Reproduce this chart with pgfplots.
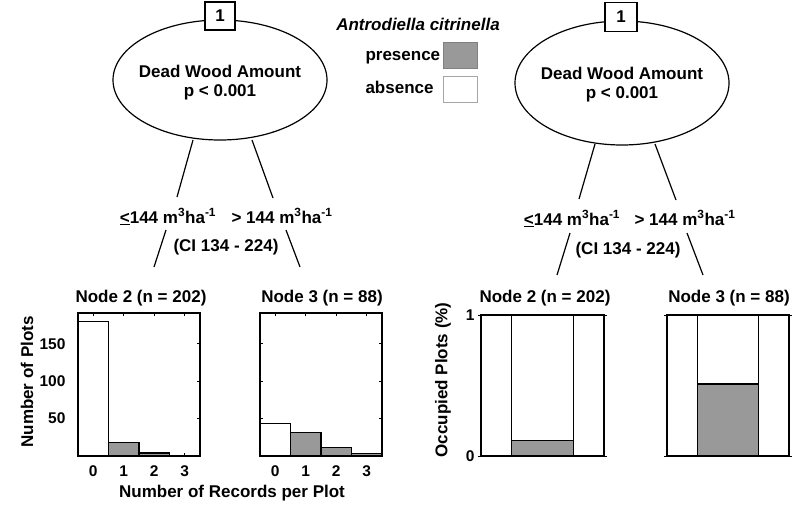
\documentclass[border=0pt]{standalone}
\usepackage{fontspec}
\setmainfont{Liberation Sans}
\usepackage{pgfplots}
\pgfplotsset{compat=1.18}
\definecolor{pres}{RGB}{153,153,153}
\newcommand{\lab}{\fontsize{17}{20}\selectfont\bfseries}
\newcommand{\tlab}{\fontsize{15.5}{18}\selectfont\bfseries}
\pgfplotsset{
  base/.style={
    scale only axis, anchor=south west, clip=false,
    axis line style={line width=1.2pt},
    /pgf/number format/assume math mode=true,
    ticklabel style={font=\tlab},
    tick style={black, line width=1pt},
    major tick length=3pt,
  },
  hist/.style={base, width=122pt, height=143pt,
    xmin=-0.5, xmax=3.5, ymin=0, ymax=191,
    xtick={0,1,2,3}, ytick={50,100,150}, tick align=inside,
    xticklabel style={yshift=-6pt},
    yticklabel style={xshift=-9pt},
  },
  occ/.style={base, height=141pt,
    xmin=0, xmax=4, ymin=0, ymax=1,
    xtick=\empty, ytick={0,1}, tick align=outside,
  },
  hbar/.style={ybar, bar width=1, draw=black, line width=1.2pt},
  obar/.style={ybar, bar width=2, draw=black, line width=1.2pt},
}
\begin{document}
\begin{tikzpicture}[x=1pt,y=-1pt,font=\lab]
\useasboundingbox (0,0) rectangle (794,504);
% ---------- left tree ----------
\draw[line width=1.2pt] (220,80) ellipse [x radius=107, y radius=60];
\node[draw, fill=white, line width=1.2pt, minimum width=30pt, minimum height=28pt, inner sep=0pt] at (220,16) {1};
\node[anchor=base] at (220,77) {Dead Wood Amount};
\node[anchor=base] at (220,96) {p < 0.001};
\draw[line width=1.2pt] (193,140) -- (177,197);
\draw[line width=1.2pt] (252,140) -- (273,198);
\draw[line width=1.2pt] (166,230) -- (154,267);
\draw[line width=1.2pt] (286,230) -- (300,267);
\node[anchor=base] at (168,223) {\underline{<}144 m\textsuperscript{3}ha\textsuperscript{-1}};
\node[anchor=base] at (282,223) {> 144 m\textsuperscript{3}ha\textsuperscript{-1}};
\node[anchor=base] at (226,251) {(CI 134 - 224)};
% ---------- right tree ----------
\draw[line width=1.2pt] (622,83) ellipse [x radius=107, y radius=62];
\node[draw, fill=white, line width=1.2pt, minimum width=32pt, minimum height=29pt, inner sep=0pt] at (621,17) {1};
\node[anchor=base] at (622,79) {Dead Wood Amount};
\node[anchor=base] at (622,98) {p < 0.001};
\draw[line width=1.2pt] (595,144) -- (579,199);
\draw[line width=1.2pt] (655,144) -- (676,200);
\draw[line width=1.2pt] (570,233) -- (557,275);
\draw[line width=1.2pt] (687,233) -- (703,275);
\node[anchor=base] at (572,225) {\underline{<}144 m\textsuperscript{3}ha\textsuperscript{-1}};
\node[anchor=base] at (685,225) {> 144 m\textsuperscript{3}ha\textsuperscript{-1}};
\node[anchor=base] at (628,254) {(CI 134 - 224)};
% ---------- legend ----------
\node[anchor=base, font=\lab\itshape] at (418,30) {Antrodiella citrinella};
\node[anchor=base west] at (362,60) {presence};
\node[anchor=base west] at (362,93) {absence};
\draw[draw=gray, fill=pres, line width=1pt] (443,42) rectangle (477,68);
\draw[draw=gray!70, fill=white, line width=1pt] (443,76) rectangle (477,102);
% ---------- titles and labels ----------
\node[anchor=base] at (141,302) {Node 2 (n = 202)};
\node[anchor=base] at (322,302) {Node 3 (n = 88)};
\node[anchor=base] at (545,302) {Node 2 (n = 202)};
\node[anchor=base] at (729,302) {Node 3 (n = 88)};
\node at (232,493) {Number of Records per Plot};
\node[rotate=90] at (27,382) {Number of Plots};
\node[rotate=90] at (443,380) {Occupied Plots (\%)};
% ---------- histograms ----------
\begin{axis}[hist, at={(78pt,-456pt)}]
\addplot[hbar, fill=white] coordinates {(0,180)};
\addplot[hbar, fill=pres] coordinates {(1,18) (2,4) (3,0)};
\end{axis}
\begin{axis}[hist, at={(260pt,-456pt)}, yticklabels={}]
\addplot[hbar, fill=white] coordinates {(0,43)};
\addplot[hbar, fill=pres] coordinates {(1,31) (2,11) (3,3)};
\end{axis}
% ---------- occupancy ----------
\begin{axis}[occ, width=123pt, at={(481pt,-456pt)}]
\addplot[obar, fill=white] coordinates {(2,1)};
\addplot[obar, fill=pres] coordinates {(2,0.109)};
\end{axis}
\begin{axis}[occ, width=122pt, at={(667pt,-456pt)}, yticklabels={}]
\addplot[obar, fill=white] coordinates {(2,1)};
\addplot[obar, fill=pres] coordinates {(2,0.511)};
\end{axis}
\end{tikzpicture}
\end{document}
